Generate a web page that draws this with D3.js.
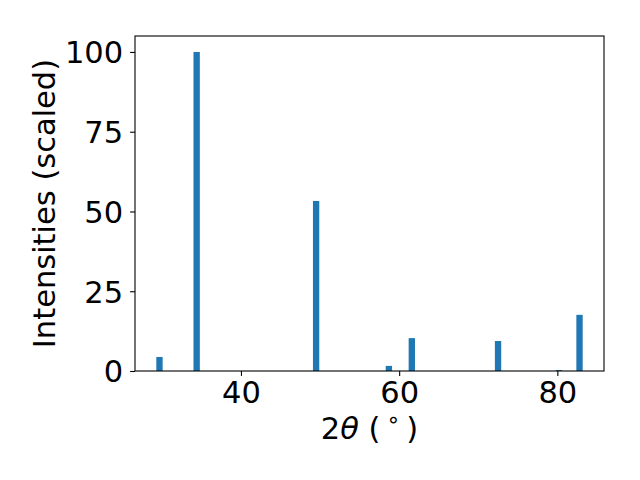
<!DOCTYPE html>
<html>
<head>
<meta charset="utf-8">
<script src="https://cdn.jsdelivr.net/npm/d3@7"></script>
<style>
  body { margin: 0; background: #fff; }
  text { font-family: "DejaVu Sans", sans-serif; fill: #000; }
</style>
</head>
<body>
<div id="chart"></div>
<script>
// peak positions (2theta, degrees) and scaled intensities
const peaks = [29.7, 34.4, 49.5, 58.7, 61.6, 72.5, 80.2, 82.8];
const intensities = [4.4, 100, 53.3, 1.6, 10.3, 9.4, 0.3, 17.6];
const xTicks = [40, 60, 80];
const yTicks = [0, 25, 50, 75, 100];
const barWidth = 0.8;

const width = 640,
  height = 480,
  margin = { top: 36, right: 36, bottom: 109, left: 135 };
const fontSize = 30.5;

const svg = d3.select("#chart")
  .append("svg")
  .attr("width", width)
  .attr("height", height);

// matplotlib-like 5% padding on x
const xmin = d3.min(peaks) - barWidth / 2,
  xmax = d3.max(peaks) + barWidth / 2,
  pad = (xmax - xmin) * 0.05;

const x = d3.scaleLinear()
  .domain([xmin - pad, xmax + pad])
  .range([margin.left, width - margin.right]);

const y = d3.scaleLinear()
  .domain([0, d3.max(intensities) * 1.05])
  .range([height - margin.bottom, margin.top]);

// bars
svg.selectAll("rect.bar")
  .data(peaks)
  .join("rect")
  .attr("class", "bar")
  .attr("x", (d) => x(d - barWidth / 2))
  .attr("width", (d) => x(d + barWidth / 2) - x(d - barWidth / 2))
  .attr("y", (d, i) => y(intensities[i]))
  .attr("height", (d, i) => y(0) - y(intensities[i]))
  .attr("fill", "#1f77b4");

// axes
const xAxis = svg.append("g")
  .attr("transform", `translate(0,${height - margin.bottom})`)
  .call(d3.axisBottom(x).tickValues(xTicks).tickSize(4.9).tickPadding(7).tickSizeOuter(0));

const yAxis = svg.append("g")
  .attr("transform", `translate(${margin.left},0)`)
  .call(d3.axisLeft(y).tickValues(yTicks).tickSize(4.9).tickPadding(7).tickSizeOuter(0));

[xAxis, yAxis].forEach((g) => {
  g.select(".domain").remove();
  g.selectAll(".tick line").attr("stroke", "#000").attr("stroke-width", 1.1);
  g.selectAll(".tick text")
    .style("font-family", "DejaVu Sans")
    .style("font-size", fontSize + "px")
    .attr("fill", "#000");
});
xAxis.selectAll(".tick text").attr("dy", null).attr("y", 32);
yAxis.selectAll(".tick text").attr("dy", "0.36em");

// frame
svg.append("rect")
  .attr("x", margin.left)
  .attr("y", margin.top)
  .attr("width", width - margin.left - margin.right)
  .attr("height", height - margin.top - margin.bottom)
  .attr("fill", "none")
  .attr("stroke", "#000")
  .attr("stroke-width", 1.1);

// x label: 2θ (°)
const xl = svg.append("text")
  .attr("x", (margin.left + width - margin.right) / 2)
  .attr("y", 439)
  .attr("text-anchor", "middle")
  .style("font-size", fontSize + "px");
xl.append("tspan").text("2");
xl.append("tspan").style("font-style", "italic").text("θ");
xl.append("tspan").text(" (");
xl.append("tspan").attr("dx", 6).attr("dy", -12).style("font-size", "22px").text("∘");
xl.append("tspan").attr("dx", 6).attr("dy", 12).text(")");

// y label
svg.append("text")
  .attr("transform", `translate(55,${(margin.top + height - margin.bottom) / 2}) rotate(-90)`)
  .attr("text-anchor", "middle")
  .style("font-size", fontSize + "px")
  .text("Intensities (scaled)");
</script>
</body>
</html>
